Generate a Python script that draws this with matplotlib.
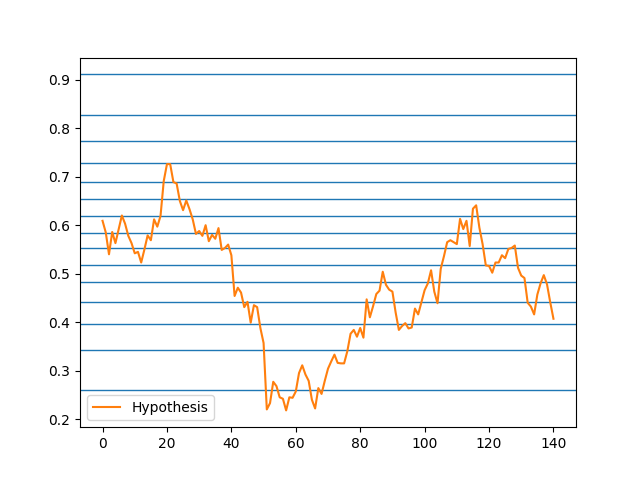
import matplotlib
matplotlib.use("Agg")
import matplotlib.pyplot as plt

# horizontal reference levels (blue lines)
levels = [0.911, 0.828, 0.774, 0.728, 0.689, 0.654, 0.619, 0.584,
          0.552, 0.517, 0.482, 0.442, 0.397, 0.342, 0.260]

# hypothesis series, one value per step (0..140)
hypothesis = [
    0.609, 0.585, 0.540, 0.586, 0.563, 0.592, 0.620, 0.603, 0.578, 0.563,
    0.542, 0.545, 0.523, 0.550, 0.579, 0.569, 0.612, 0.597, 0.619, 0.691,
    0.726, 0.726, 0.689, 0.686, 0.650, 0.631, 0.651, 0.633, 0.612, 0.582,
    0.588, 0.578, 0.600, 0.567, 0.580, 0.572, 0.594, 0.549, 0.553, 0.560,
    0.538, 0.454, 0.471, 0.461, 0.431, 0.442, 0.399, 0.435, 0.431, 0.388,
    0.357, 0.220, 0.233, 0.277, 0.268, 0.245, 0.242, 0.218, 0.245, 0.244,
    0.257, 0.295, 0.311, 0.292, 0.279, 0.240, 0.222, 0.264, 0.252, 0.279,
    0.304, 0.319, 0.333, 0.316, 0.315, 0.315, 0.340, 0.376, 0.384, 0.370,
    0.388, 0.368, 0.447, 0.410, 0.433, 0.458, 0.465, 0.504, 0.477, 0.467,
    0.463, 0.420, 0.384, 0.392, 0.398, 0.387, 0.389, 0.428, 0.416, 0.441,
    0.466, 0.480, 0.507, 0.463, 0.439, 0.510, 0.536, 0.565, 0.569, 0.565,
    0.561, 0.613, 0.592, 0.609, 0.557, 0.634, 0.641, 0.595, 0.561, 0.517,
    0.516, 0.502, 0.523, 0.523, 0.538, 0.532, 0.551, 0.553, 0.558, 0.512,
    0.496, 0.491, 0.440, 0.432, 0.416, 0.457, 0.480, 0.497, 0.478, 0.441,
    0.407,
]


def main():
    fig, ax = plt.subplots(figsize=(6.4, 4.8), dpi=100)
    for lv in levels:
        ax.axhline(lv, color="tab:blue", linewidth=1)
    ax.plot(range(len(hypothesis)), hypothesis, color="tab:orange", label="Hypothesis")
    ax.legend(loc="lower left")
    fig.savefig("out.png")


if __name__ == "__main__":
    main()
